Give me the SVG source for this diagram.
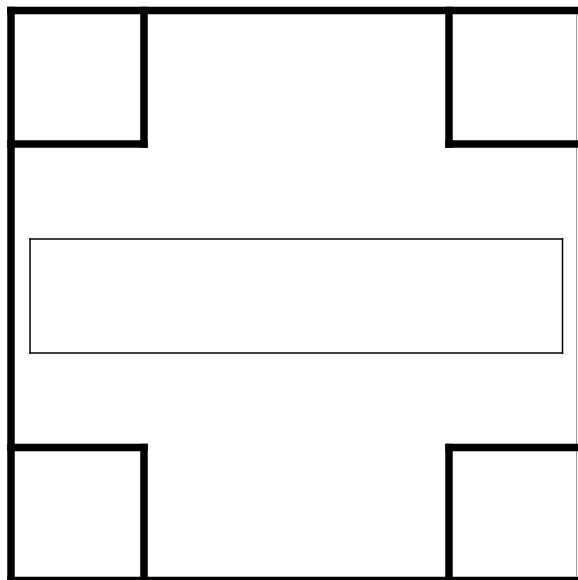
<svg xmlns="http://www.w3.org/2000/svg" width="578" height="580" viewBox="0 0 578 580">
<style>
.w{stroke:#000;stroke-width:7.5;stroke-linecap:square;fill:none}
.t{stroke:#000;stroke-width:1.5;stroke-linecap:square;fill:none}
</style>
<rect width="578" height="580" fill="#fff"/>
<g id="outer">
<line class="w" x1="11" y1="10.5" x2="582" y2="10.5"/>
<line class="w" x1="11" y1="10.5" x2="11" y2="584"/>
<line class="w" x1="11" y1="580.5" x2="582" y2="580.5"/>
<line x1="576.5" y1="14" x2="576.5" y2="577" stroke="#999" stroke-width="1"/>
</g>
<g id="room-tl">
<line class="w" x1="144" y1="10.5" x2="144" y2="144"/>
<line class="w" x1="11" y1="144" x2="144" y2="144"/>
</g>
<g id="room-tr">
<line class="w" x1="449" y1="10.5" x2="449" y2="144"/>
<line class="w" x1="449" y1="144" x2="582" y2="144"/>
</g>
<g id="room-bl">
<line class="w" x1="144" y1="447.5" x2="144" y2="580"/>
<line class="w" x1="11" y1="447.5" x2="144" y2="447.5"/>
</g>
<g id="room-br">
<line class="w" x1="449" y1="447.5" x2="449" y2="580"/>
<line class="w" x1="449" y1="447.5" x2="582" y2="447.5"/>
</g>
<g id="center">
<line class="t" x1="30" y1="239" x2="562.5" y2="239"/>
<line class="t" x1="30" y1="353" x2="562.5" y2="353"/>
<line class="t" x1="30" y1="239" x2="30" y2="353"/>
<line class="t" x1="562.5" y1="239" x2="562.5" y2="353"/>
</g>
</svg>
